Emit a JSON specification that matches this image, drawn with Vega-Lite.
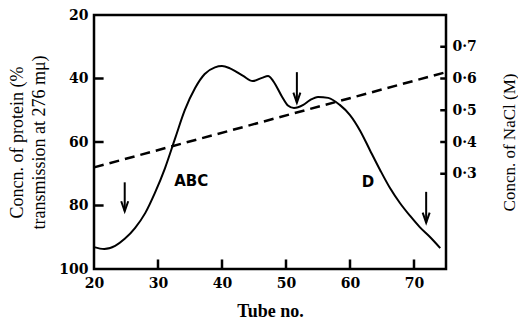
{
  "$schema": "https://vega.github.io/schema/vega-lite/v6.json",
  "width": 352,
  "height": 254,
  "autosize": {"type": "none"},
  "padding": {"left": 94, "top": 15, "right": 72, "bottom": 52},
  "background": "white",
  "config": {
    "view": {"stroke": "black", "strokeWidth": 2.5},
    "axis": {
      "domain": false,
      "grid": false,
      "ticks": false,
      "labelColor": "black",
      "labelFont": "DejaVu Serif",
      "labelFontWeight": "bold",
      "labelFontSize": 14,
      "labelFlush": false,
      "titleColor": "black",
      "titleFont": "Liberation Serif",
      "titleFontWeight": "normal",
      "titleFontSize": 18
    }
  },
  "datasets": {
    "protein": [
      {"tube": 20.0, "pct": 93.1},
      {"tube": 21.6, "pct": 93.7},
      {"tube": 23.3, "pct": 92.7},
      {"tube": 24.8, "pct": 90.5},
      {"tube": 26.4, "pct": 87.1},
      {"tube": 28.0, "pct": 82.4},
      {"tube": 29.5, "pct": 76.1},
      {"tube": 31.1, "pct": 68.2},
      {"tube": 32.7, "pct": 58.7},
      {"tube": 34.2, "pct": 49.9},
      {"tube": 35.8, "pct": 43.0},
      {"tube": 37.3, "pct": 38.6},
      {"tube": 38.9, "pct": 36.5},
      {"tube": 40.0, "pct": 36.1},
      {"tube": 41.25, "pct": 36.8},
      {"tube": 43.3, "pct": 39.2},
      {"tube": 44.8, "pct": 40.8},
      {"tube": 46.25, "pct": 39.8},
      {"tube": 47.2, "pct": 39.2},
      {"tube": 48.0, "pct": 40.8},
      {"tube": 49.4, "pct": 45.8},
      {"tube": 50.3, "pct": 48.5},
      {"tube": 51.25, "pct": 49.3},
      {"tube": 52.7, "pct": 48.3},
      {"tube": 53.75, "pct": 46.8},
      {"tube": 55.0, "pct": 45.8},
      {"tube": 56.6, "pct": 46.1},
      {"tube": 58.4, "pct": 48.3},
      {"tube": 60.0, "pct": 51.5},
      {"tube": 61.6, "pct": 56.5},
      {"tube": 63.1, "pct": 62.5},
      {"tube": 64.7, "pct": 68.8},
      {"tube": 66.25, "pct": 74.5},
      {"tube": 67.8, "pct": 79.2},
      {"tube": 69.4, "pct": 83.3},
      {"tube": 70.9, "pct": 86.8},
      {"tube": 72.5, "pct": 89.9},
      {"tube": 74.1, "pct": 93.4}
    ],
    "nacl": [
      {"tube": 20, "m": 0.32},
      {"tube": 75, "m": 0.62}
    ],
    "arrows": [
      {"tube": 24.8, "top": 72.7, "bottom": 81.8},
      {"tube": 51.7, "top": 38.0, "bottom": 47.6},
      {"tube": 71.9, "top": 75.7, "bottom": 85.4}
    ],
    "labels": [
      {"tube": 35.2, "pct": 72.3, "text": "ABC"},
      {"tube": 62.8, "pct": 72.6, "text": "D"}
    ],
    "xticks": [{"tube": 30}, {"tube": 40}, {"tube": 50}, {"tube": 60}, {"tube": 70}],
    "lticks": [{"pct": 40}, {"pct": 60}, {"pct": 80}],
    "rticks": [{"m": 0.3}, {"m": 0.4}, {"m": 0.5}, {"m": 0.6}, {"m": 0.7}]
  },
  "layer": [
    {
      "layer": [
        {
          "data": {"name": "protein"},
          "mark": {"type": "line", "color": "black", "strokeWidth": 2, "interpolate": "monotone"},
          "encoding": {
            "x": {
              "field": "tube",
              "type": "quantitative",
              "scale": {"domain": [20, 75], "nice": false, "zero": false},
              "axis": {
                "values": [20, 30, 40, 50, 60, 70],
                "labelPadding": 7,
                "title": "Tube no.",
                "titleFontWeight": "bold",
                "titleFontSize": 18,
                "titlePadding": 12
              }
            },
            "y": {
              "field": "pct",
              "type": "quantitative",
              "scale": {"domain": [20, 100], "reverse": true, "nice": false, "zero": false},
              "axis": {
                "orient": "left",
                "values": [20, 40, 60, 80, 100],
                "labelPadding": 6,
                "title": ["Concn. of protein (%", "transmission at 276 mμ)"],
                "titleLineHeight": 22,
                "titlePadding": 10
              }
            }
          }
        },
        {
          "data": {"name": "xticks"},
          "mark": {"type": "rule", "color": "black", "strokeWidth": 2.5},
          "encoding": {
            "x": {"field": "tube", "type": "quantitative"},
            "y": {"datum": 100, "type": "quantitative"},
            "y2": {"datum": 97.0}
          }
        },
        {
          "data": {"name": "lticks"},
          "mark": {"type": "rule", "color": "black", "strokeWidth": 2.5},
          "encoding": {
            "x": {"datum": 20, "type": "quantitative"},
            "x2": {"datum": 21.5},
            "y": {"field": "pct", "type": "quantitative"}
          }
        },
        {
          "data": {"name": "arrows"},
          "mark": {"type": "rule", "color": "black", "strokeWidth": 2},
          "encoding": {
            "x": {"field": "tube", "type": "quantitative"},
            "y": {"field": "top", "type": "quantitative"},
            "y2": {"field": "bottom"}
          }
        },
        {
          "data": {"name": "arrows"},
          "mark": {"type": "point", "shape": "M-0.35,-1L0,0L0.35,-1", "filled": false, "stroke": "black", "strokeWidth": 2, "size": 400, "opacity": 1},
          "encoding": {
            "x": {"field": "tube", "type": "quantitative"},
            "y": {"field": "bottom", "type": "quantitative"}
          }
        },
        {
          "data": {"name": "labels"},
          "mark": {"type": "text", "font": "DejaVu Sans", "fontWeight": "bold", "fontSize": 15, "color": "black", "align": "center", "baseline": "middle"},
          "encoding": {
            "x": {"field": "tube", "type": "quantitative"},
            "y": {"field": "pct", "type": "quantitative"},
            "text": {"field": "text"}
          }
        }
      ]
    },
    {
      "layer": [
        {
          "data": {"name": "nacl"},
          "mark": {"type": "line", "color": "black", "strokeWidth": 2.5, "strokeDash": [10, 6]},
          "encoding": {
            "x": {"field": "tube", "type": "quantitative"},
            "y": {
              "field": "m",
              "type": "quantitative",
              "scale": {"domain": [0, 0.8], "nice": false, "zero": false},
              "axis": {
                "orient": "right",
                "values": [0.3, 0.4, 0.5, 0.6, 0.7],
                "labelExpr": "replace(format(datum.value, '.1f'), '.', '·')",
                "labelPadding": 6,
                "title": "Concn. of NaCl (M)",
                "titleAngle": -90,
                "titleFontSize": 17,
                "titlePadding": 42
              }
            }
          }
        },
        {
          "data": {"name": "rticks"},
          "mark": {"type": "rule", "color": "black", "strokeWidth": 2.5},
          "encoding": {
            "x": {"datum": 74.1, "type": "quantitative"},
            "x2": {"datum": 75},
            "y": {"field": "m", "type": "quantitative"}
          }
        }
      ]
    }
  ],
  "resolve": {"scale": {"y": "independent"}}
}
